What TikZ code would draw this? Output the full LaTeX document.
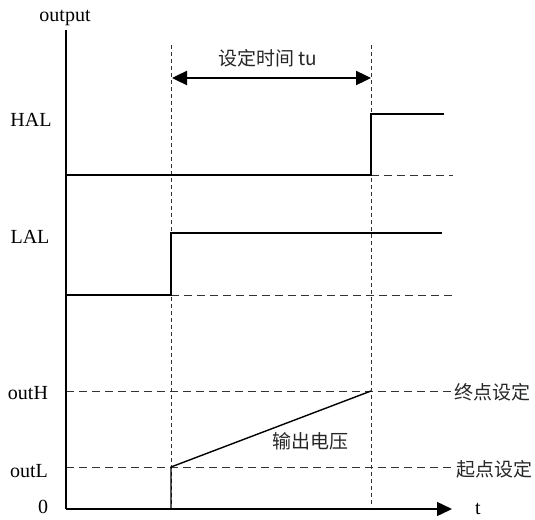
\documentclass[tikz,border=0pt]{standalone}
\usepackage{fontspec}
\setmainfont{Liberation Serif}
\newfontfamily\cjk{Noto Sans CJK SC}
\usetikzlibrary{arrows.meta}
\begin{document}
\begin{tikzpicture}[x=1pt,y=-1pt,
  sig/.style={line width=1.4pt},
  axisline/.style={line width=1.4pt},
  guide/.style={line width=0.9pt, dash pattern=on 8pt off 5pt, black!80},
  vguide/.style={line width=0.9pt, dash pattern=on 4pt off 3pt, black!80},
  lbl/.style={font=\fontsize{20}{20}\selectfont, inner sep=0pt},
  clbl/.style={font=\cjk\fontsize{19}{19}\selectfont, inner sep=0pt, text=black!85},
  bigtip/.style={-{Triangle[length=15pt,width=14pt]}},
]
\useasboundingbox (0,0) rectangle (535,519);

% key points
\coordinate (O) at (66,509);
\coordinate (Ytop) at (66,30);
\coordinate (Xend) at (452,509);
\coordinate (v1top) at (171,45);
\coordinate (v1bot) at (171,507);
\coordinate (v2top) at (371,45);
\coordinate (v2bot) at (371,507);
\coordinate (a1) at (172,78);
\coordinate (a2) at (371,78);
% HAL signal
\coordinate (h0) at (66,175);
\coordinate (h1) at (371,175);
\coordinate (h2) at (371,114);
\coordinate (h3) at (444,114);
\coordinate (hd) at (453,175);
% LAL signal
\coordinate (l0) at (66,295);
\coordinate (l1) at (171,295);
\coordinate (l2) at (171,233);
\coordinate (l3) at (442,233);
\coordinate (ld) at (455,295);
% outH / outL
\coordinate (oh0) at (66,391);
\coordinate (oh1) at (453,391);
\coordinate (ol0) at (66,467);
\coordinate (ol1) at (455,467);
% ramp
\coordinate (r0) at (171,509);
\coordinate (r1) at (171,467);
\coordinate (r2) at (371,391);

% labels
\node[lbl] (out) at (65,18) {output};
\node[lbl] (hal) at (31,120) {HAL};
\node[lbl] (lal) at (30,237) {LAL};
\node[lbl] (outh) at (28,393) {outH};
\node[lbl] (outl) at (29,471) {outL};
\node[lbl] (zero) at (43,507) {0};
\node[lbl] (tlab) at (478,509) {t};
\node[clbl] (tu) at (268,58) {设定时间 tu};
\node[clbl] (vout) at (310,441) {输出电压};
\node[clbl, anchor=west] (endset) at (454,392) {终点设定};
\node[clbl, anchor=west] (startset) at (456,469) {起点设定};

% guides
\draw[vguide] (v1top) -- (v1bot);
\draw[vguide] (v2top) -- (v2bot);
\draw[guide] (h1) -- (hd);
\draw[guide] (l1) -- (ld);
\draw[guide] (oh0) -- (oh1);
\draw[guide] (ol0) -- (ol1);

% axes
\draw[axisline] (Ytop) -- (O);
\draw[axisline, bigtip] (O) -- (Xend);

% duration arrow
\draw[line width=2.4pt, {Triangle[length=15pt,width=14pt]}-{Triangle[length=15pt,width=14pt]}] (a1) -- (a2);

% signals
\draw[sig] (h0) -- (h1) -- (h2) -- (h3);
\draw[sig] (l0) -- (l1) -- (l2) -- (l3);
\draw[sig] (r0) -- (r1) -- (r2);
\end{tikzpicture}
\end{document}
